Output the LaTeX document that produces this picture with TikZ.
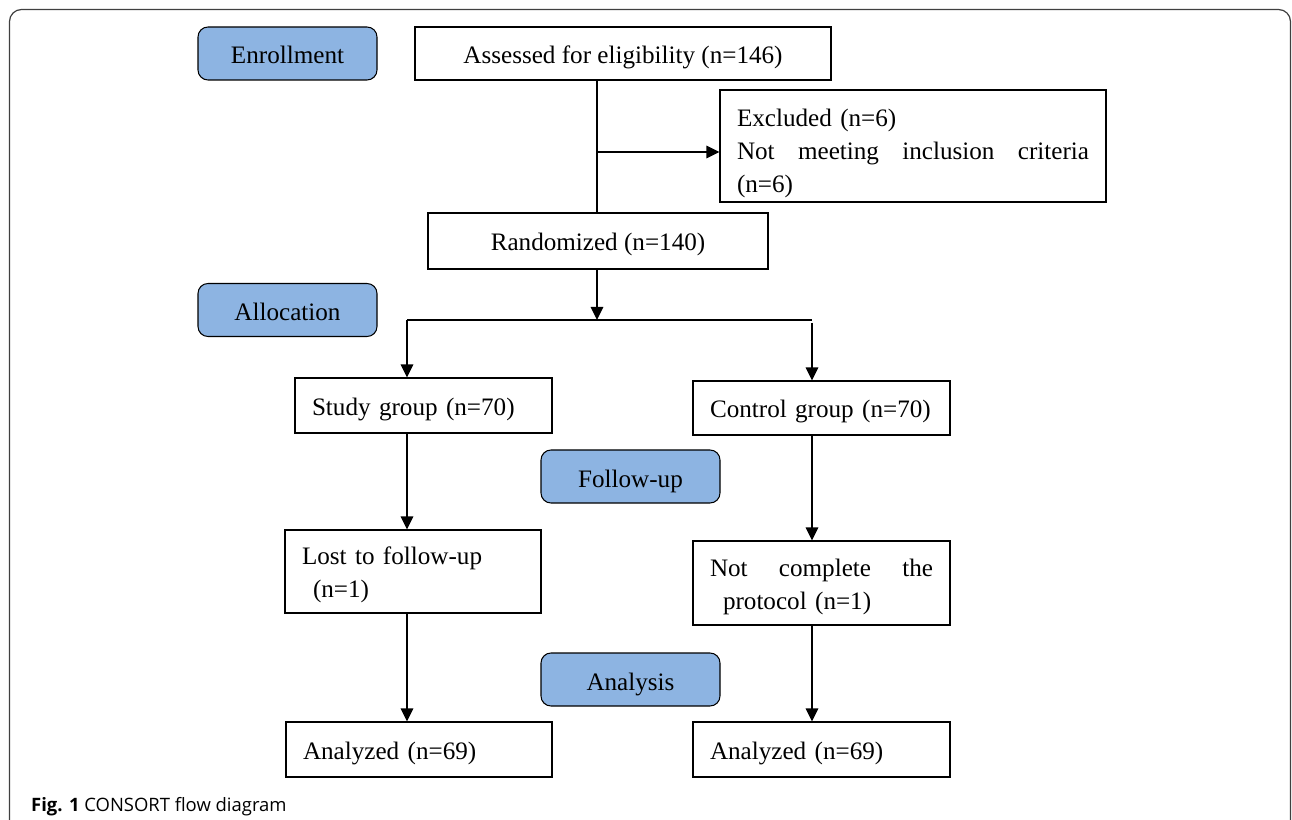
\documentclass[tikz,border=0pt]{standalone}
\usepackage{fontspec}
\setmainfont{Liberation Serif}
\newfontfamily\capfont{Open Sans}
\usetikzlibrary{arrows.meta}
\definecolor{phaseblue}{RGB}{141,180,226}
\begin{document}
\begin{tikzpicture}[x=0.2mm,y=-0.2mm,
    font=\fontsize{14.3}{18.8}\selectfont,
    boxc/.style={draw, line width=0.6pt, align=center, text height=4.6mm, text depth=0.6mm},
    boxl/.style={draw, line width=0.6pt, align=left, inner xsep=3.4mm, inner ysep=0pt,
        execute at begin node={\rule{0pt}{4.9mm}}},
    phase/.style={draw, line width=0.6pt, fill=phaseblue, rounded corners=2mm,
        minimum width=35.8mm, minimum height=10.6mm, text height=4.6mm, text depth=0.4mm},
    flow/.style={line width=0.9pt, -{Triangle[length=2.6mm,width=2.5mm]}}]
    \clip (0,0) rectangle (1292,820);
    \draw[black!75, line width=0.7pt, rounded corners=2.4mm] (9.5,850) -- (9.5,9.5) -- (1290.5,9.5) -- (1290.5,850);

    \node[phase] (enroll) at (287.5,53.5) {Enrollment};
    \node[phase] (alloc) at (287.5,310) {Allocation};
    \node[phase] (follow) at (630.5,476.5) {Follow-up};
    \node[phase] (analysis) at (630.5,679.5) {Analysis};

    \node[boxc, minimum width=83.2mm, minimum height=10.6mm] (assess) at (623,53.5) {Assessed for eligibility (n=146)};
    \node[boxl, text width=70.4mm, minimum height=22.4mm] (excl) at (913,146)
        {\rule{0pt}{6.3mm}Excluded (n=6)\\\makebox[70.4mm][l]{Not\hfill meeting\hfill inclusion\hfill criteria}\\(n=6)};
    \node[boxc, minimum width=68mm, minimum height=11.2mm] (rand) at (598,241) {Randomized (n=140)};

    \node[boxl, text width=44.6mm, minimum height=11mm] (study) at (423.5,405.5) {Study group (n=70)};
    \node[boxl, text width=44.6mm, minimum height=10.8mm] (control) at (821.5,408) {Control group (n=70)};
    \node[boxl, text width=44.4mm, minimum height=16.6mm] (lost) at (413,571.5)
        {Lost to follow-up\\\hspace*{2.2mm}(n=1)};
    \node[boxl, text width=44.6mm, minimum height=16.8mm] (notcomp) at (821.5,583)
        {\makebox[44.6mm][l]{Not\hfill complete\hfill the}\\\hspace*{2.6mm}protocol (n=1)};
    \node[boxl, text width=46.4mm, minimum height=11mm] (anaL) at (419,749.5) {Analyzed (n=69)};
    \node[boxl, text width=44.6mm, minimum height=11mm] (anaR) at (821.5,749.5) {Analyzed (n=69)};

    \coordinate (split) at (597,152);
    \coordinate (fork) at (597,320);
    \coordinate (forkL) at (407,320);
    \coordinate (forkR) at (812,320);

    \draw[line width=0.6pt] (rand.north -| split) -- (assess.south -| split);
    \draw[flow] (split) -- (split -| excl.west);
    \draw[flow] (rand.south -| fork) -- (fork);
    \draw[line width=0.9pt] (forkL) -- (forkR);
    \draw[flow] (forkL) -- (forkL |- study.north);
    \draw[flow] ([yshift=-0.6mm]forkR) -- (forkR |- control.north);
    \draw[flow] (forkL |- study.south) -- (forkL |- lost.north);
    \draw[flow] (forkR |- control.south) -- (forkR |- notcomp.north);
    \draw[flow] (forkL |- lost.south) -- (forkL |- anaL.north);
    \draw[flow] (forkR |- notcomp.south) -- (forkR |- anaR.north);

    \node[anchor=base west, font=\capfont\fontsize{10.5}{12}\selectfont] (caption) at (25,811)
        {\textbf{Fig. 1} CONSORT flow diagram};

\end{tikzpicture}
\end{document}
